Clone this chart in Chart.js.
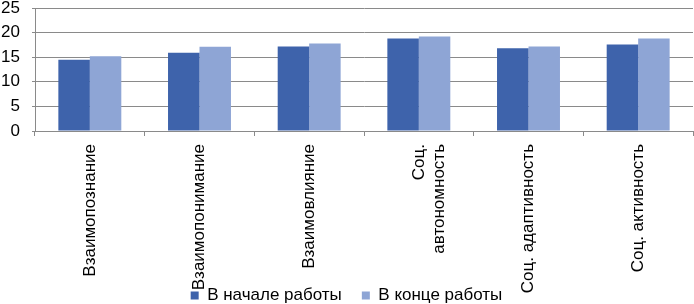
<!DOCTYPE html>
<html>
<head>
<meta charset="utf-8">
<script src="https://cdn.jsdelivr.net/npm/chart.js@4/dist/chart.umd.min.js"></script>
<style>
  html, body { margin: 0; padding: 0; background: #fff; }
  #wrap { width: 694px; height: 304px; }
</style>
</head>
<body>
<div id="wrap"><canvas id="chart"></canvas></div>
<script>
// categories (x axis)
const categories = [
  'Взаимопознание',
  'Взаимопонимание',
  'Взаимовлияние',
  ['Соц.', 'автономность'],
  'Соц. адаптивность',
  'Соц. активность'
];
// series
const startLabel = 'В начале работы';
const endLabel = 'В конце работы';
const startValues = [14.5, 15.9, 17.2, 18.8, 16.8, 17.6];
const endValues = [15.2, 17.1, 17.8, 19.2, 17.2, 18.8];
// y ticks
const yMin = 0, yMax = 25, yStep = 5;

const font = "'Liberation Sans', Arial, sans-serif";
const gridColor = '#8a8a8a';
const legendPad = 20;

// legend sits in the same band as the long rotated labels, like the original
const legendShift = {
  id: 'legendShift',
  afterLayout(chart) {
    const lg = chart.legend;
    const h = lg.bottom - lg.top;
    lg.top = 295 - legendPad - 8;
    lg.bottom = lg.top + h;
    chart.scales.x.bottom = chart.height;
  }
};

new Chart(document.getElementById('chart'), {
  type: 'bar',
  data: {
    labels: categories,
    datasets: [
      { label: startLabel, data: startValues, backgroundColor: '#3e63ab', categoryPercentage: 0.574, barPercentage: 1 },
      { label: endLabel, data: endValues, backgroundColor: '#8ea5d5', categoryPercentage: 0.574, barPercentage: 1 }
    ]
  },
  plugins: [legendShift],
  options: {
    responsive: true,
    maintainAspectRatio: false,
    animation: false,
    layout: { padding: { left: 0, right: 1, top: 0, bottom: 0 } },
    plugins: {
      tooltip: { enabled: false },
      legend: {
        position: 'bottom',
        labels: {
          font: { family: font, size: 17 },
          color: '#000',
          boxWidth: 8,
          boxHeight: 8,
          padding: legendPad
        }
      }
    },
    scales: {
      x: {
        grid: { offset: true, drawOnChartArea: false, color: gridColor, tickLength: 5 },
        border: { color: gridColor },
        ticks: {
          font: { family: font, size: 17 },
          color: '#000',
          minRotation: 90,
          maxRotation: 90,
          padding: 8,
          autoSkip: false
        },
        afterFit: (scale) => { scale.height = 126; }
      },
      y: {
        min: yMin,
        max: yMax,
        grid: { color: gridColor, tickLength: 3 },
        border: { color: gridColor },
        ticks: {
          stepSize: yStep,
          autoSkip: false,
          font: { family: font, size: 17 },
          color: '#000',
          padding: 12
        },
        afterFit: (scale) => { scale.width = 35; scale.paddingTop = 8; scale.paddingBottom = 0; }
      }
    }
  }
});
</script>
</body>
</html>
